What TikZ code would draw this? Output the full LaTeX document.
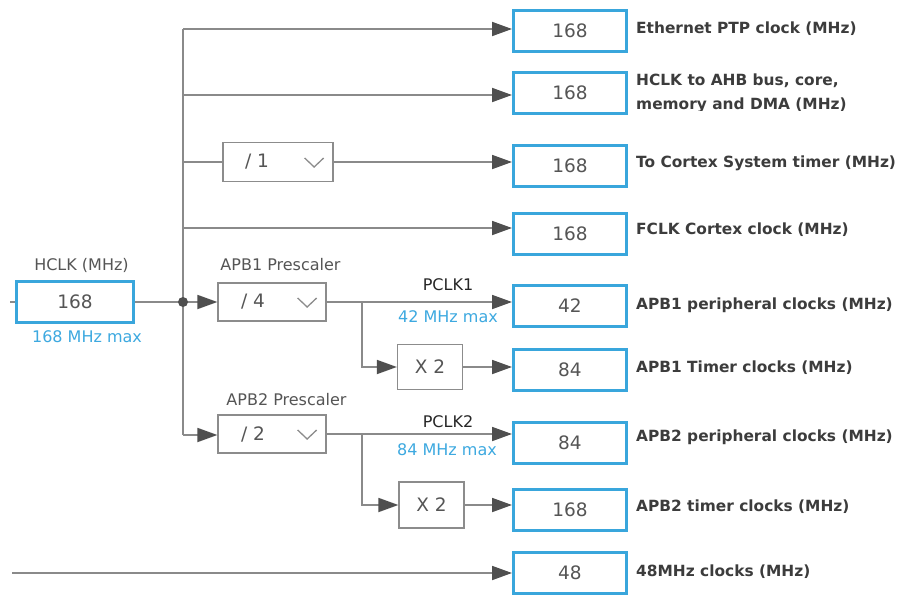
\documentclass[tikz,border=0pt]{standalone}
\usepackage{fontspec}
\setmainfont{DejaVu Sans}
\usetikzlibrary{arrows.meta,calc}
\definecolor{stblue}{HTML}{39A6DC}
\definecolor{linegray}{HTML}{8A8A8A}
\definecolor{tipgray}{HTML}{4F4F4F}
\definecolor{boxgray}{HTML}{8C8C8C}
\definecolor{txtgray}{HTML}{555555}
\definecolor{lblgray}{HTML}{3C3C3C}
\definecolor{skytxt}{HTML}{3DA9E0}
\begin{document}
\begin{tikzpicture}[x=1pt,y=-1pt,
  outbox/.style={draw=stblue, line width=3pt, minimum width=113pt, minimum height=41pt, inner sep=0pt, font=\fontsize{18.5}{20}\selectfont, text=txtgray},
  selbox/.style={draw=boxgray, line width=1.3pt, minimum width=108pt, minimum height=38pt, inner sep=0pt},
  mulbox/.style={draw=boxgray, line width=1.3pt, minimum width=65pt, minimum height=45pt, inner sep=0pt, font=\fontsize{18.5}{20}\selectfont, text=txtgray},
  seltext/.style={font=\fontsize{18.5}{20}\selectfont, text=txtgray, inner sep=0pt},
  chev/.style={draw=boxgray, line width=1.3pt},
  conn/.style={draw=linegray, line width=1.8pt},
  arr/.style={conn, -{Triangle[length=20pt,width=14pt,color=tipgray]}},
  lab/.style={anchor=west, font=\fontsize{15.4}{24}\selectfont\bfseries, text=lblgray, inner sep=0pt, align=left},
  small/.style={font=\fontsize{16}{19}\selectfont, text=txtgray, inner sep=0pt},
  bluetxt/.style={font=\fontsize{16}{19}\selectfont, text=skytxt, inner sep=0pt},
  pclk/.style={font=\fontsize{16}{19}\selectfont, text=black!85, inner sep=0pt}
]
\useasboundingbox (0,0) rectangle (906,597);
\fill[white] (0,0) rectangle (906,597);

% output boxes
\node[outbox] (b1) at (570,31) {168};
\node[outbox] (b2) at (570,93) {168};
\node[outbox] (b3) at (570,165.5) {168};
\node[outbox] (b4) at (570,234) {168};
\node[outbox] (b5) at (570,305.5) {42};
\node[outbox] (b6) at (570,370) {84};
\node[outbox] (b7) at (570,442.5) {84};
\node[outbox] (b8) at (570,509.5) {168};
\node[outbox] (b9) at (570,573) {48};

% input
\node[outbox, minimum width=117pt] (hclk) at (75,302) {168};
\node[small] (hclkl) at (81.5,265) {HCLK (MHz)};
\node[bluetxt] (hclkm) at (87,337) {168 MHz max};

% bus coordinates
\coordinate (busA) at (183,29);
\coordinate (busB) at (183,95);
\coordinate (busC) at (183,162);
\coordinate (busD) at (183,228);
\coordinate (jn) at (183,302);
\coordinate (busE) at (183,435);
\coordinate (in1) at (10,302);
\coordinate (in2) at (12,573);

% prescalers
\node[selbox, minimum width=110pt, minimum height=39pt] (d1) at (278,162) {};
\node[seltext] (d1t) at (257,162) {/ 1};
\draw[chev] ($(d1.east)+(-29,-4)$) -- ++(9.5,9) -- ++(9.5,-9);

\node[selbox] (p1) at (272,302) {};
\node[seltext] (p1t) at (253,302) {/ 4};
\draw[chev] ($(p1.east)+(-29,-4)$) -- ++(9.5,9) -- ++(9.5,-9);
\node[small] (p1l) at (280.5,265) {APB1 Prescaler};

\node[selbox] (p2) at (272,434) {};
\node[seltext] (p2t) at (253,434) {/ 2};
\draw[chev] ($(p2.east)+(-29,-4)$) -- ++(9.5,9) -- ++(9.5,-9);
\node[small] (p2l) at (286.5,400) {APB2 Prescaler};

% multipliers
\node[mulbox] (x2a) at (430,367) {X 2};
\node[mulbox, minimum height=46pt] (x2b) at (431.5,505) {X 2};

\coordinate (br1) at (362,302);
\coordinate (br2) at (362,434);

% connectors
\draw[conn] (busA) -- (jn);
\draw[conn] (jn) -- (busE);
\draw[arr] (busA) -- (busA -| b1.west);
\draw[arr] (busB) -- (busB -| b2.west);
\draw[conn] (busC) -- (d1.west);
\draw[arr] (d1.east) -- (d1.east -| b3.west);
\draw[arr] (busD) -- (busD -| b4.west);
\draw[conn] (in1) -- (hclk.west);
\draw[conn] (hclk.east) -- (jn);
\draw[arr] (jn) -- (p1.west);
\draw[arr] (busE) -- (busE -| p2.west);
\fill[tipgray] (jn) circle (5pt);

\draw[arr] (p1.east) -- (p1.east -| b5.west);
\draw[arr] (br1) |- (x2a.west);
\draw[arr] (x2a.east) -- (x2a.east -| b6.west);

\draw[arr] (p2.east) -- (p2.east -| b7.west);
\draw[arr] (br2) |- (x2b.west);
\draw[arr] (x2b.east) -- (x2b.east -| b8.west);

\draw[arr] (in2) -- (in2 -| b9.west);

% PCLK labels
\node[pclk] (pc1) at (448,285) {PCLK1};
\node[bluetxt] (pc1m) at (448,317) {42 MHz max};
\node[pclk] (pc2) at (448,422) {PCLK2};
\node[bluetxt] (pc2m) at (447,450) {84 MHz max};

% right labels
\node[lab] (l1) at (636,29) {Ethernet PTP clock (MHz)};
\begin{scope}
\clip (630,60) rectangle (906,110);
\node[lab] (l2) at (636,93) {HCLK to AHB bus, core,\\memory and DMA (MHz)};
\end{scope}
\node[lab] (l3) at (636,163) {To Cortex System timer (MHz)};
\node[lab] (l4) at (636,230) {FCLK Cortex clock (MHz)};
\node[lab] (l5) at (636,305) {APB1 peripheral clocks (MHz)};
\node[lab] (l6) at (636,368) {APB1 Timer clocks (MHz)};
\node[lab] (l7) at (636,437) {APB2 peripheral clocks (MHz)};
\node[lab] (l8) at (636,507) {APB2 timer clocks (MHz)};
\node[lab] (l9) at (636,572) {48MHz clocks (MHz)};
\end{tikzpicture}
\end{document}
